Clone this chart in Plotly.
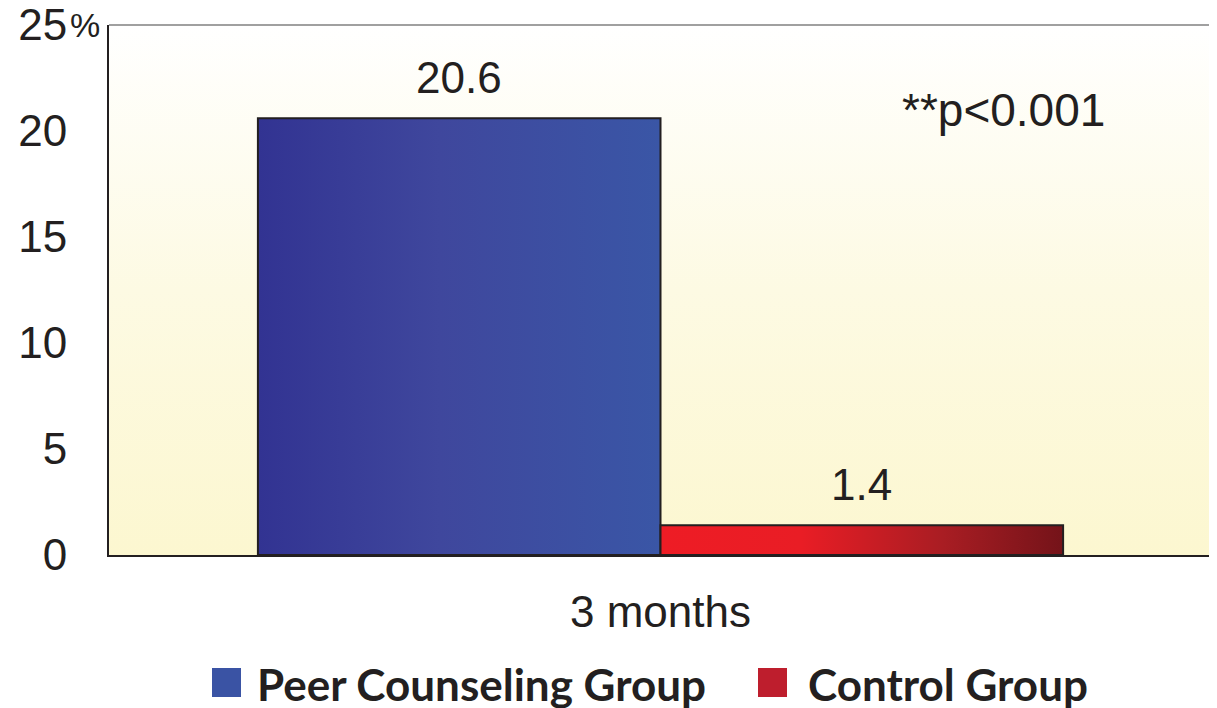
import plotly.graph_objects as go

# ---- data ----
categories = ["3 months"]
groups = ["Peer Counseling Group", "Control Group"]
values_peer = [20.6]
values_control = [1.4]
value_labels_peer = ["20.6"]
value_labels_control = ["1.4"]
y_ticks = [0, 5, 10, 15, 20, 25]
y_tick_labels = ["0", "5", "10", "15", "20", "25"]
p_note = "**p<0.001"

# ---- style ----
OFF = 8  # default page body margin
W, H = 1217 - OFF, 708 - OFF
ML, MR, MT, MB = 101, 5, 17, 153
PW, PH = W - ML - MR, H - MT - MB
X_RANGE = [-0.5, 0.5]
Y_RANGE = [0, 25]
BAR_GAP = 0.27
FONT = "Liberation Sans, Arial, sans-serif"
INK = "#231f20"

gradients = {
    "Peer Counseling Group": [[0, "#323392"], [0.45, "#3f479d"], [1, "#3a56a6"]],
    "Control Group": [[0, "#ee1c25"], [0.35, "#e91d25"], [0.7, "#a91d23"], [1, "#741319"]],
}
legend_colors = {"Peer Counseling Group": "#3a53a4", "Control Group": "#be1e2d"}


def px_x(p):  # page pixel -> paper x
    return (p - OFF - ML) / PW


def px_y(p):  # page pixel -> paper y
    return (H - MB - (p - OFF)) / PH


fig = go.Figure()

# plot background gradient (white top -> pale yellow bottom)
fig.add_trace(go.Scatter(
    x=[X_RANGE[0], X_RANGE[1], X_RANGE[1], X_RANGE[0], X_RANGE[0]],
    y=[Y_RANGE[0], Y_RANGE[0], Y_RANGE[1], Y_RANGE[1], Y_RANGE[0]],
    mode="lines", line=dict(width=0), fill="toself",
    fillgradient=dict(type="vertical",
                      colorscale=[[0, "#fcf7d0"], [0.5, "#fdfae3"], [1, "#ffffff"]]),
    hoverinfo="skip", showlegend=False,
))

series = [values_peer, values_control]
labels = [value_labels_peer, value_labels_control]
n = len(series)
bw = (1 - BAR_GAP) / n
for gi, (name, vals, labs) in enumerate(zip(groups, series, labels)):
    for ci, (cat, v) in enumerate(zip(categories, vals)):
        x0 = ci - (1 - BAR_GAP) / 2 + gi * bw
        x1 = x0 + bw
        fig.add_trace(go.Scatter(
            x=[x0, x0, x1, x1, x0], y=[0, v, v, 0, 0],
            mode="lines", line=dict(color=INK, width=2), fill="toself",
            fillgradient=dict(type="horizontal", colorscale=gradients[name]),
            name=name, showlegend=False, hoveron="fills",
        ))
        fig.add_annotation(x=(x0 + x1) / 2, y=v, text=labs[ci], showarrow=False,
                           yanchor="bottom", yshift=14,
                           font=dict(family=FONT, size=44, color=INK))

# significance note
fig.add_annotation(xref="paper", x=px_x(1004), y=21.0, text=p_note, showarrow=False,
                   xanchor="center", yanchor="middle",
                   font=dict(family=FONT, size=46, color=INK))

# % sign next to the top tick
fig.add_annotation(xref="paper", x=px_x(101), y=25, yshift=0, text="%", showarrow=False,
                   xanchor="right", yanchor="middle", borderpad=0,
                   font=dict(family=FONT, size=34, color=INK))

# top and right grey frame lines
fig.add_shape(type="line", xref="paper", yref="paper", x0=0, x1=1, y0=1, y1=1,
              line=dict(color="#a0a0a0", width=2))
fig.add_shape(type="line", xref="paper", yref="paper", x0=1, x1=1, y0=0, y1=1,
              line=dict(color="#a0a0a0", width=2))

# manual legend
legend_items = [(groups[0], 212, 256), (groups[1], 758, 807)]
for name, sq_x, tx in legend_items:
    fig.add_shape(type="rect", xref="paper", yref="paper",
                  x0=px_x(sq_x), x1=px_x(sq_x + 29), y0=px_y(697), y1=px_y(668),
                  line=dict(width=0), fillcolor=legend_colors[name])
    fig.add_annotation(xref="paper", yref="paper", x=px_x(tx), y=px_y(684),
                       text="<b>" + name + "</b>", showarrow=False,
                       xanchor="left", yanchor="middle", borderpad=0,
                       font=dict(family="Lato, Open Sans, sans-serif", size=44, color=INK))

fig.update_layout(
    width=W, height=H,
    margin=dict(l=ML, r=MR, t=MT, b=MB, autoexpand=False),
    paper_bgcolor="white", plot_bgcolor="white",
    showlegend=False,
    xaxis=dict(range=X_RANGE, tickvals=list(range(len(categories))), ticktext=categories,
               showgrid=False, zeroline=False, showline=True, linecolor=INK, linewidth=2,
               ticks="", ticklabelstandoff=17, automargin=False,
               tickfont=dict(family=FONT, size=44, color=INK), fixedrange=True),
    yaxis=dict(range=Y_RANGE, tickvals=y_ticks, ticktext=y_tick_labels,
               showgrid=False, zeroline=False, showline=True, linecolor=INK, linewidth=2,
               ticks="", ticklabelstandoff=31, ticklabeloverflow="allow", automargin=False,
               tickfont=dict(family=FONT, size=44, color=INK), fixedrange=True),
)

fig.write_html("out.html")
